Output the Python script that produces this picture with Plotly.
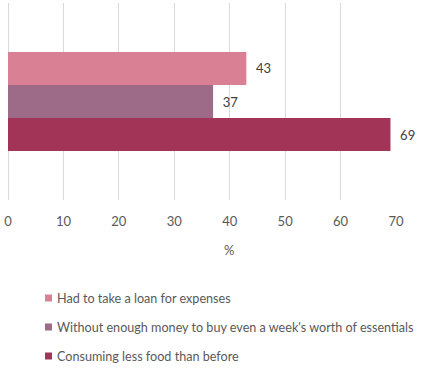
import plotly.graph_objects as go

# Survey outcomes (% of respondents)
series_names = [
    "Had to take a loan for expenses",
    "Without enough money to buy even a week's worth of essentials",
    "Consuming less food than before",
]
series_values = [43, 37, 69]
series_colors = ["#D98094", "#9D6A87", "#A23458"]
category = [""]
x_ticks = [0, 10, 20, 30, 40, 50, 60, 70]

FONT = "Lato, Calibri, 'Open Sans', sans-serif"
TEXT_GREY = "#595959"

# plot area in pixels (used to place legend and axis title in paper coords)
PL, PR, PT, PB = 8, 396, 3, 200
W, H = 421, 372


def px_x(p):
    return (p - PL) / (PR - PL)


def px_y(p):
    return (PB - p) / (PB - PT)


fig = go.Figure()
for i, (name, val, col) in enumerate(zip(series_names, series_values, series_colors)):
    fig.add_trace(go.Bar(
        y=category, x=[val], name=name, orientation="h",
        marker=dict(color=col, line=dict(width=0)),
        text=[val], texttemplate="\u00a0\u00a0%{x}", textposition="outside",
        textfont=dict(family=FONT, size=13, color="#404040"),
        cliponaxis=False, showlegend=False,
    ))

# Legend: small colour square + label per series, stacked below the axis
shapes, annotations = [], []
row_y = [298, 327, 356]
for name, col, yc in zip(series_names, series_colors, row_y):
    shapes.append(dict(
        type="rect", xref="paper", yref="paper",
        x0=px_x(45), x1=px_x(52), y0=px_y(yc + 3.5), y1=px_y(yc - 3.5),
        fillcolor=col, line=dict(width=0),
    ))
    annotations.append(dict(
        text=name, x=px_x(55), y=px_y(yc), xref="paper", yref="paper",
        xanchor="left", yanchor="middle", showarrow=False,
        font=dict(family=FONT, size=12.6, color=TEXT_GREY),
    ))

# axis title
annotations.append(dict(
    text="%", x=px_x(229), y=px_y(250), xref="paper", yref="paper",
    xanchor="center", yanchor="middle", showarrow=False,
    font=dict(family=FONT, size=13, color=TEXT_GREY),
))

fig.update_layout(
    width=W, height=H,
    margin=dict(l=PL, r=W - PR, t=PT, b=H - PB),
    paper_bgcolor="white", plot_bgcolor="white",
    barmode="group", bargap=0.497, bargroupgap=0,
    font=dict(family=FONT, size=13, color=TEXT_GREY),
    xaxis=dict(
        range=[0, 70], tickvals=x_ticks, showgrid=True,
        gridcolor="#D9D9D9", gridwidth=1,
        zeroline=True, zerolinecolor="#D9D9D9", zerolinewidth=1,
        showline=False, ticks="", ticklabelstandoff=12,
        tickfont=dict(family=FONT, size=13, color=TEXT_GREY),
    ),
    yaxis=dict(autorange="reversed", showticklabels=False, showgrid=False,
               zeroline=False, showline=False),
    showlegend=False,
    shapes=shapes,
    annotations=annotations,
)

fig.write_html("out.html")
